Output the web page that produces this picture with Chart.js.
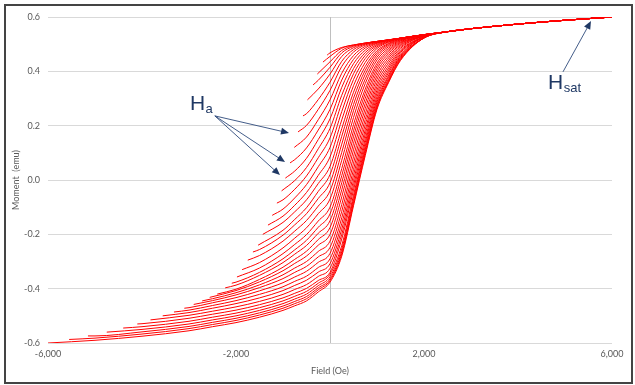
<!DOCTYPE html>
<html>
<head>
<meta charset="utf-8">
<script src="https://cdn.jsdelivr.net/npm/chart.js@4.4.1/dist/chart.umd.min.js"></script>
<style>
    html, body { margin: 0; padding: 0; background: #fff; }
    #wrap { position: relative; width: 635px; height: 385px; }
    #frame { position: absolute; left: 4px; top: 4px; width: 629px; height: 380px; box-sizing: border-box; border: 2px solid #444; pointer-events: none; }
</style>
</head>
<body>
<div id="wrap">
    <canvas id="forcChart" width="635" height="385"></canvas>
    <div id="frame"></div>
</div>
<script>
const _ = null;

// common field steps (Oe) every reversal curve is read at
const fieldGrid = [-5000, -4000, -3000, -2500, -2000, -1500, -1000, -750, -500, -250, 0, 250, 500, 750, 1000, 1250, 1500, 2000];

// all curves share the same saturated tail
const tailFields = [2500, 3000, 4000, 5000, 6000];
const tailMoments = [0.546, 0.557, 0.574, 0.588, 0.600];

// reversal points Ha (start of each curve)
const reversalFields = [-60, -150, -270, -360, -480, -575, -680, -760, -850, -950, -1030, -1130, -1230, -1320, -1430, -1530, -1640, -1750, -1870, -1980, -2090, -2230, -2400, -2560, -2720, -2900, -3100, -3320, -3560, -3820, -4100, -4400, -4750, -5150, -5550, -6000];
const reversalMoments = [0.46, 0.434, 0.39, 0.35, 0.295, 0.236, 0.177, 0.12, 0.063, 0.007, -0.04, -0.085, -0.13, -0.166, -0.2, -0.24, -0.265, -0.295, -0.33, -0.357, -0.38, -0.397, -0.42, -0.432, -0.445, -0.458, -0.472, -0.486, -0.5, -0.515, -0.53, -0.545, -0.56, -0.574, -0.587, -0.6];

// moment (emu) of each curve at fieldGrid, null before its reversal field
const forcMoments = [
    [_, _, _, _, _, _, _, _, _, _, 0.468, 0.488, 0.497, 0.504, 0.510, 0.516, 0.522, 0.535],
    [_, _, _, _, _, _, _, _, _, _, 0.455, 0.485, 0.497, 0.504, 0.510, 0.516, 0.522, 0.535],
    [_, _, _, _, _, _, _, _, _, _, 0.435, 0.477, 0.495, 0.504, 0.510, 0.516, 0.522, 0.535],
    [_, _, _, _, _, _, _, _, _, 0.367, 0.415, 0.468, 0.492, 0.503, 0.510, 0.516, 0.522, 0.535],
    [_, _, _, _, _, _, _, _, _, 0.335, 0.390, 0.455, 0.487, 0.502, 0.510, 0.515, 0.522, 0.535],
    [_, _, _, _, _, _, _, _, 0.244, 0.296, 0.360, 0.437, 0.480, 0.500, 0.509, 0.515, 0.522, 0.535],
    [_, _, _, _, _, _, _, _, 0.201, 0.260, 0.330, 0.418, 0.471, 0.497, 0.508, 0.515, 0.522, 0.535],
    [_, _, _, _, _, _, _, _, 0.158, 0.222, 0.295, 0.393, 0.458, 0.492, 0.507, 0.515, 0.522, 0.535],
    [_, _, _, _, _, _, _, 0.075, 0.118, 0.184, 0.260, 0.368, 0.444, 0.486, 0.505, 0.515, 0.522, 0.535],
    [_, _, _, _, _, _, _, 0.033, 0.080, 0.149, 0.225, 0.341, 0.428, 0.478, 0.503, 0.514, 0.522, 0.535],
    [_, _, _, _, _, _, _, -0.002, 0.046, 0.115, 0.190, 0.312, 0.410, 0.469, 0.499, 0.513, 0.522, 0.535],
    [_, _, _, _, _, _, -0.073, -0.034, 0.015, 0.082, 0.155, 0.283, 0.391, 0.459, 0.495, 0.511, 0.521, 0.535],
    [_, _, _, _, _, _, -0.107, -0.066, -0.017, 0.049, 0.120, 0.252, 0.370, 0.447, 0.490, 0.509, 0.521, 0.533],
    [_, _, _, _, _, _, -0.133, -0.093, -0.046, 0.017, 0.085, 0.221, 0.347, 0.433, 0.484, 0.507, 0.520, 0.533],
    [_, _, _, _, _, _, -0.156, -0.117, -0.073, -0.013, 0.050, 0.189, 0.323, 0.418, 0.476, 0.503, 0.519, 0.533],
    [_, _, _, _, _, _, -0.185, -0.145, -0.102, -0.042, 0.020, 0.161, 0.301, 0.404, 0.469, 0.500, 0.518, 0.533],
    [_, _, _, _, _, -0.256, -0.203, -0.165, -0.124, -0.068, -0.010, 0.132, 0.278, 0.389, 0.461, 0.496, 0.516, 0.533],
    [_, _, _, _, _, -0.278, -0.225, -0.188, -0.149, -0.096, -0.040, 0.102, 0.255, 0.372, 0.452, 0.491, 0.514, 0.533],
    [_, _, _, _, _, -0.304, -0.250, -0.214, -0.176, -0.124, -0.070, 0.073, 0.230, 0.355, 0.442, 0.485, 0.512, 0.533],
    [_, _, _, _, _, -0.324, -0.271, -0.237, -0.201, -0.151, -0.100, 0.042, 0.204, 0.335, 0.430, 0.479, 0.509, 0.533],
    [_, _, _, _, -0.376, -0.340, -0.290, -0.257, -0.222, -0.174, -0.125, 0.016, 0.181, 0.319, 0.420, 0.473, 0.506, 0.530],
    [_, _, _, _, -0.387, -0.351, -0.304, -0.273, -0.241, -0.196, -0.150, -0.010, 0.159, 0.301, 0.409, 0.466, 0.503, 0.530],
    [_, _, _, _, -0.402, -0.366, -0.321, -0.292, -0.262, -0.219, -0.175, -0.036, 0.135, 0.282, 0.397, 0.458, 0.499, 0.530],
    [_, _, _, _, -0.407, -0.375, -0.334, -0.307, -0.280, -0.240, -0.200, -0.062, 0.111, 0.263, 0.384, 0.450, 0.495, 0.530],
    [_, _, _, -0.437, -0.415, -0.386, -0.349, -0.324, -0.300, -0.263, -0.225, -0.090, 0.086, 0.243, 0.371, 0.441, 0.490, 0.530],
    [_, _, _, -0.444, -0.423, -0.396, -0.363, -0.340, -0.318, -0.283, -0.248, -0.115, 0.062, 0.223, 0.357, 0.432, 0.485, 0.530],
    [_, _, -0.470, -0.452, -0.433, -0.408, -0.378, -0.357, -0.336, -0.303, -0.270, -0.139, 0.039, 0.204, 0.344, 0.422, 0.479, 0.527],
    [_, _, -0.479, -0.462, -0.444, -0.421, -0.393, -0.373, -0.354, -0.322, -0.290, -0.161, 0.018, 0.185, 0.331, 0.413, 0.474, 0.527],
    [_, _, -0.488, -0.472, -0.455, -0.434, -0.407, -0.388, -0.369, -0.339, -0.308, -0.181, -0.002, 0.169, 0.319, 0.404, 0.469, 0.527],
    [_, _, -0.498, -0.483, -0.467, -0.447, -0.421, -0.403, -0.385, -0.355, -0.325, -0.200, -0.020, 0.152, 0.307, 0.396, 0.463, 0.527],
    [_, -0.529, -0.509, -0.494, -0.479, -0.459, -0.434, -0.417, -0.399, -0.370, -0.340, -0.217, -0.037, 0.138, 0.296, 0.387, 0.458, 0.527],
    [_, -0.540, -0.520, -0.505, -0.490, -0.470, -0.445, -0.428, -0.410, -0.380, -0.347, -0.241, -0.056, 0.125, 0.287, 0.381, 0.454, 0.523],
    [_, -0.550, -0.530, -0.515, -0.500, -0.480, -0.455, -0.438, -0.420, -0.389, -0.356, -0.254, -0.068, 0.114, 0.278, 0.374, 0.450, 0.523],
    [-0.574, -0.559, -0.539, -0.524, -0.509, -0.489, -0.464, -0.447, -0.429, -0.397, -0.364, -0.264, -0.079, 0.105, 0.271, 0.369, 0.446, 0.523],
    [-0.582, -0.567, -0.547, -0.532, -0.517, -0.497, -0.472, -0.455, -0.437, -0.404, -0.370, -0.272, -0.087, 0.097, 0.266, 0.364, 0.443, 0.523],
    [-0.590, -0.575, -0.555, -0.540, -0.525, -0.505, -0.480, -0.463, -0.445, -0.412, -0.376, -0.280, -0.095, 0.090, 0.260, 0.360, 0.440, 0.523]
];

// annotation anchors, in data units (Oe, emu)
const haLabel = { x: -2980, y: 0.258 };
const haTail = { x: -2450, y: 0.236 };
const haHeads = [{ x: -872, y: 0.173 }, { x: -957, y: 0.066 }, { x: -1064, y: 0.018 }];
const hsatLabel = { x: 4638, y: 0.335 };
const hsatTail = { x: 4957, y: 0.398 };
const hsatHead = { x: 5553, y: 0.585 };

Chart.defaults.font.family = 'Lato';
Chart.defaults.font.size = 9;
Chart.defaults.color = '#595959';

const datasets = reversalFields.map((ha, i) => {
    const pts = [{ x: ha, y: reversalMoments[i] }];
    fieldGrid.forEach((h, j) => {
        const m = forcMoments[i][j];
        if (m !== null) pts.push({ x: h, y: m });
    });
    tailFields.forEach((h, j) => pts.push({ x: h, y: tailMoments[j] }));
    return {
        data: pts,
        borderColor: '#ff0000',
        borderWidth: 1,
        pointRadius: 0,
        fill: false,
        cubicInterpolationMode: 'monotone'
    };
});

function drawArrow(ctx, x1, y1, x2, y2) {
    const ang = Math.atan2(y2 - y1, x2 - x1);
    const len = 8, half = 3.5;
    ctx.beginPath();
    ctx.moveTo(x1, y1);
    ctx.lineTo(x2 - Math.cos(ang) * len * 0.8, y2 - Math.sin(ang) * len * 0.8);
    ctx.stroke();
    ctx.beginPath();
    ctx.moveTo(x2, y2);
    ctx.lineTo(x2 - Math.cos(ang) * len + Math.sin(ang) * half, y2 - Math.sin(ang) * len - Math.cos(ang) * half);
    ctx.lineTo(x2 - Math.cos(ang) * len - Math.sin(ang) * half, y2 - Math.sin(ang) * len + Math.cos(ang) * half);
    ctx.closePath();
    ctx.fill();
}

function drawLabel(ctx, x, y, main, sub) {
    ctx.font = '21px "Liberation Sans"';
    ctx.fillText(main, x, y);
    const w = ctx.measureText(main).width;
    ctx.font = '13px "Liberation Sans"';
    ctx.fillText(sub, x + w + 0.5, y + 3);
}

const annotationPlugin = {
    id: 'forcAnnotations',
    beforeDatasetsDraw(chart) {
        const { ctx, chartArea: a, scales: { x } } = chart;
        const px = Math.round(x.getPixelForValue(0)) + 0.5;
        ctx.save();
        ctx.strokeStyle = '#bfbfbf';
        ctx.lineWidth = 1;
        ctx.beginPath();
        ctx.moveTo(px, a.top);
        ctx.lineTo(px, a.bottom);
        ctx.stroke();
        ctx.restore();
    },
    afterDatasetsDraw(chart) {
        const { ctx, scales: { x, y } } = chart;
        const P = p => [x.getPixelForValue(p.x), y.getPixelForValue(p.y)];
        ctx.save();
        ctx.strokeStyle = '#2f4b7c';
        ctx.fillStyle = '#1f3864';
        ctx.lineWidth = 0.9;
        const [tx, ty] = P(haTail);
        haHeads.forEach(h => {
            const [hx, hy] = P(h);
            drawArrow(ctx, tx, ty, hx, hy);
        });
        const [sx, sy] = P(hsatTail);
        const [ex, ey] = P(hsatHead);
        drawArrow(ctx, sx, sy, ex, ey);
        ctx.fillStyle = '#1f3864';
        ctx.textBaseline = 'alphabetic';
        const [lx, ly] = P(haLabel);
        drawLabel(ctx, lx, ly, 'H', 'a');
        const [mx, my] = P(hsatLabel);
        drawLabel(ctx, mx, my, 'H', 'sat');
        ctx.restore();
    }
};

new Chart(document.getElementById('forcChart'), {
    type: 'line',
    data: { datasets: datasets },
    options: {
        responsive: false,
        animation: false,
        layout: { padding: { left: 7, right: 23, top: 17, bottom: 5 } },
        plugins: { legend: { display: false }, tooltip: { enabled: false } },
        scales: {
            x: {
                type: 'linear',
                min: -6000,
                max: 6000,
                ticks: {
                    stepSize: 4000,
                    padding: 6,
                    maxRotation: 0,
                    callback: v => v.toLocaleString('en-US')
                },
                grid: { display: false, drawTicks: false },
                border: { display: false },
                title: { display: true, text: 'Field (Oe)', color: '#595959' },
                afterFit: s => { s.height = 37; }
            },
            y: {
                min: -0.6,
                max: 0.6,
                ticks: {
                    stepSize: 0.2,
                    padding: 8,
                    callback: v => v.toFixed(1)
                },
                grid: { color: '#d9d9d9', drawTicks: false },
                border: { display: false },
                title: { display: true, text: 'Moment  (emu)', color: '#595959' },
                afterFit: s => { s.width = 41; }
            }
        }
    },
    plugins: [annotationPlugin]
}) ;
</script>
</body>
</html>
